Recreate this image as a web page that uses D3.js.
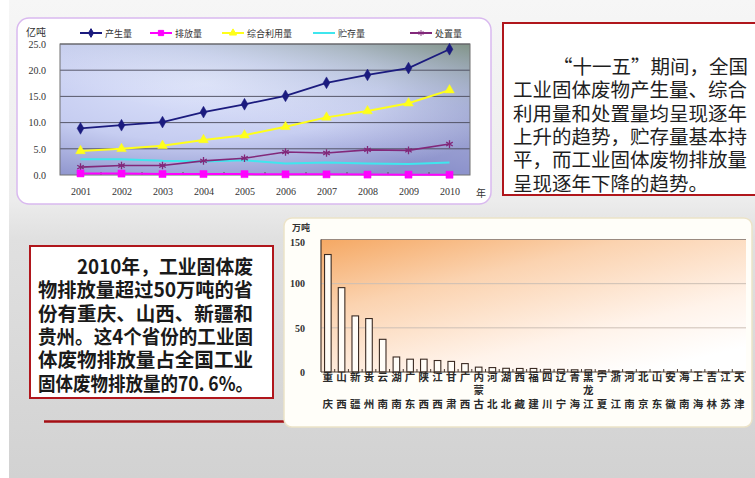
<!DOCTYPE html>
<html><head><meta charset="utf-8">
<script src="https://cdn.jsdelivr.net/npm/d3@7"></script>
<style>html,body{margin:0;padding:0;background:#fff;} svg{display:block;}</style>
</head><body><svg id="c" width="755" height="478"></svg>
<script>
// ---- Data: top line chart (亿吨) ----
const years = ["2001","2002","2003","2004","2005","2006","2007","2008","2009","2010"];
const production  = [8.9, 9.5, 10.1, 12.0, 13.5, 15.1, 17.6, 19.1, 20.4, 24.0];
const discharge   = [0.30, 0.27, 0.19, 0.18, 0.17, 0.13, 0.12, 0.08, 0.07, 0.05];
const utilization = [4.6, 5.0, 5.6, 6.7, 7.6, 9.2, 11.0, 12.2, 13.7, 16.2];
const storage     = [3.0, 3.0, 2.7, 2.6, 2.8, 2.2, 2.4, 2.2, 2.1, 2.4];
const disposal    = [1.5, 1.8, 1.8, 2.7, 3.2, 4.4, 4.2, 4.8, 4.7, 5.9];
const seriesNames = ["产生量","排放量","综合利用量","贮存量","处置量"];
const lineTicks = [0, 5, 10, 15, 20, 25];

// ---- Data: bar chart (万吨) ----
const provinces = ["重庆","山西","新疆","贵州","云南","湖南","广东","陕西","江西","甘肃","广西","内蒙古","河北","湖北","西藏","福建","四川","辽宁","青海","黑龙江","宁夏","浙江","河南","北京","山东","安徽","海南","上海","吉林","江苏","天津"];
const provinceValues = [133, 95.5, 63.5, 60.5, 37, 17, 14.5, 14.5, 13, 12, 9.5, 5.5, 5, 4.2, 4, 4, 3, 3, 2.5, 2.5, 1.5, 1.2, 0.3, 0.2, 0.2, 0.2, 0.1, 0.1, 0.1, 0.05, 0.05];
const barTicks = [0, 50, 100, 150];

// ---- Texts ----
const rightText = ["“十一五”期间，全国","工业固体废物产生量、综合","利用量和处置量均呈现逐年","上升的趋势，贮存量基本持","平，而工业固体废物排放量","呈现逐年下降的趋势。"];
const leftText = ["2010年，工业固体废","物排放量超过50万吨的省","份有重庆、山西、新疆和","贵州。这4个省份的工业固","体废物排放量占全国工业","固体废物排放量的70. 6%。"];

const svg = d3.select("#c");
const defs = svg.append("defs");
const CJK = "'Noto Sans CJK SC', 'Noto Sans', sans-serif";

// background
const bg = defs.append("linearGradient").attr("id","bg").attr("x1",0).attr("y1",0).attr("x2",0).attr("y2",1);
bg.append("stop").attr("offset","0").attr("stop-color","#f6f6f6");
bg.append("stop").attr("offset","0.42").attr("stop-color","#ececec");
bg.append("stop").attr("offset","0.5").attr("stop-color","#e0e0e0");
bg.append("stop").attr("offset","1").attr("stop-color","#d2d2d2");
svg.append("rect").attr("x",0).attr("y",0).attr("width",755).attr("height",478).attr("fill","#ffffff");
svg.append("rect").attr("x",9).attr("y",0).attr("width",746).attr("height",478).attr("fill","url(#bg)");

// ================= TOP LINE CHART =================
svg.append("rect").attr("x",17).attr("y",18).attr("width",474).attr("height",186).attr("rx",12)
  .attr("fill","#ffffff").attr("stroke","#d9b9ef").attr("stroke-width",1.5);

const pl = {l:60, r:470, t:44, b:175};
const x = d3.scalePoint().domain(years).range([pl.l, pl.r]).padding(0.5);
const y = d3.scaleLinear().domain([0,25]).range([pl.b, pl.t]);

const rg = defs.append("radialGradient").attr("id","pbg").attr("cx","0.35").attr("cy","0.3").attr("r","0.8");
rg.append("stop").attr("offset","0").attr("stop-color","#dde3fb");
rg.append("stop").attr("offset","0.55").attr("stop-color","#c6cdf1");
rg.append("stop").attr("offset","1").attr("stop-color","#8d93cc");
const tr = defs.append("linearGradient").attr("id","ptr").attr("x1","1").attr("y1","0").attr("x2","0.55").attr("y2","0.7");
tr.append("stop").attr("offset","0").attr("stop-color","#7e927e").attr("stop-opacity",0.9);
tr.append("stop").attr("offset","0.5").attr("stop-color","#b9c6d4").attr("stop-opacity",0.3);
tr.append("stop").attr("offset","1").attr("stop-color","#ffffff").attr("stop-opacity",0);
svg.append("rect").attr("x",pl.l).attr("y",pl.t).attr("width",pl.r-pl.l).attr("height",pl.b-pl.t).attr("fill","url(#pbg)");
svg.append("rect").attr("x",pl.l).attr("y",pl.t).attr("width",pl.r-pl.l).attr("height",pl.b-pl.t).attr("fill","url(#ptr)");

// grid
svg.append("g").selectAll("line").data(lineTicks.filter(d=>d>0)).join("line")
  .attr("x1",pl.l).attr("x2",pl.r).attr("y1",d=>y(d)).attr("y2",d=>y(d))
  .attr("stroke","#4a4a5a").attr("stroke-width",0.9);
svg.append("rect").attr("x",pl.l).attr("y",pl.t).attr("width",pl.r-pl.l).attr("height",pl.b-pl.t)
  .attr("fill","none").attr("stroke","#707070").attr("stroke-width",1);

// axes
const ya = svg.append("g").attr("transform",`translate(${pl.l},0)`)
  .call(d3.axisLeft(y).tickValues(lineTicks).tickFormat(d3.format(".1f")).tickSize(0).tickPadding(14));
ya.select(".domain").remove();
ya.selectAll("text").attr("font-family","'Liberation Serif', serif").attr("font-size",10).attr("fill","#333");
const xa = svg.append("g").attr("transform",`translate(0,${pl.b})`)
  .call(d3.axisBottom(x).tickSize(0).tickPadding(13));
xa.select(".domain").remove();
xa.selectAll("text").attr("font-family","'Liberation Serif', serif").attr("font-size",10).attr("fill","#333");
svg.append("g").selectAll("line").data(years.slice(1)).join("line")
  .attr("x1",d=>x(d)-x.step()/2).attr("x2",d=>x(d)-x.step()/2).attr("y1",pl.b-3).attr("y2",pl.b)
  .attr("stroke","#555");
svg.append("text").attr("x",476).attr("y",197).text("年").attr("font-family",CJK).attr("font-size",10).attr("fill","#333");
svg.append("text").attr("x",26).attr("y",36).text("亿吨").attr("font-family",CJK).attr("font-size",10).attr("fill","#333");

const series = [
  {name:seriesNames[0], values:production,  color:"#1b1b7e", w:1.8, sym:d3.symbolDiamond, size:40, fill:true},
  {name:seriesNames[1], values:discharge,   color:"#ff00ff", w:2,   sym:d3.symbolSquare, size:50, fill:true},
  {name:seriesNames[2], values:utilization, color:"#ffff1a", w:2,   sym:d3.symbolTriangle, size:40, fill:true},
  {name:seriesNames[3], values:storage,     color:"#3fe6ee", w:2,   sym:null},
  {name:seriesNames[4], values:disposal,    color:"#82287a", w:1.6, sym:d3.symbolAsterisk, size:40, fill:false}
];
const line = d3.line().x((d,i)=>x(years[i])).y(d=>y(d));
const drawOrder = [3,4,2,0,1];
drawOrder.forEach(k=>{
  const s = series[k];
  svg.append("path").datum(s.values).attr("d",line).attr("fill","none")
    .attr("stroke",s.color).attr("stroke-width",s.w);
  if (s.sym) {
    svg.append("g").selectAll("path").data(s.values).join("path")
      .attr("transform",(d,i)=>`translate(${x(years[i])},${y(d)})`)
      .attr("d",d3.symbol().type(s.sym).size(s.size))
      .attr("fill",s.fill?s.color:"none").attr("stroke",s.color).attr("stroke-width",s.fill?0.5:1.3);
  }
});

// legend
const legX = [80, 150, 222, 313, 410];
series.forEach((s,i)=>{
  const g = svg.append("g").attr("transform",`translate(${legX[i]},33)`);
  g.append("line").attr("x1",0).attr("x2",22).attr("stroke",s.color).attr("stroke-width",2);
  if (s.sym) g.append("path").attr("transform","translate(11,0)")
    .attr("d",d3.symbol().type(s.sym).size(s.size*0.55))
    .attr("fill",s.fill?s.color:"none").attr("stroke",s.color).attr("stroke-width",1);
  g.append("text").attr("x",25).attr("y",3.5).text(s.name).attr("font-family",CJK)
    .attr("font-size",9).attr("fill","#333");
});

// ================= RIGHT TOP TEXT BOX =================
svg.append("rect").attr("x",503).attr("y",23).attr("width",262).attr("height",172)
  .attr("fill","#ffffff").attr("stroke","#b0161c").attr("stroke-width",2);
const rt = svg.append("text").attr("font-family",CJK).attr("font-size",19.5).attr("fill","#1e1e1e");
rightText.forEach((t,i)=>{
  rt.append("tspan").attr("x",i===0?553:513).attr("y",74+i*23.3).text(t);
});

// ================= LEFT TEXT BOX =================
svg.append("rect").attr("x",30).attr("y",246).attr("width",243).attr("height",152)
  .attr("fill","#ffffff").attr("stroke","#b0161c").attr("stroke-width",2);
const lt = svg.append("text").attr("font-family",CJK).attr("font-weight","bold").attr("font-size",19.5).attr("fill","#1a1a1a");
leftText.forEach((t,i)=>{
  lt.append("tspan").attr("x",i===0?77:38).attr("y",274+i*23.3).text(t)
    .attr("textLength", i===0?176:215).attr("lengthAdjust","spacingAndGlyphs");
});
svg.append("line").attr("x1",44).attr("x2",290).attr("y1",421.5).attr("y2",421.5)
  .attr("stroke","#a50f14").attr("stroke-width",2.5);

// ================= BAR CHART =================
svg.append("rect").attr("x",284).attr("y",218).attr("width",468).attr("height",209).attr("rx",8)
  .attr("fill","#fffef9").attr("stroke","#ece3c8").attr("stroke-width",1.5);
const bp = {l:321, r:746, t:239.5, b:372};
const xb = d3.scalePoint().domain(provinces).range([bp.l,bp.r]).padding(0.5);
const yb = d3.scaleLinear().domain([0,150]).range([bp.b,bp.t]);
const og = defs.append("linearGradient").attr("id","obg").attr("x1","0").attr("y1","0").attr("x2","0.75").attr("y2","1");
og.append("stop").attr("offset","0").attr("stop-color","#f5a863");
og.append("stop").attr("offset","0.35").attr("stop-color","#fbd3b0");
og.append("stop").attr("offset","0.75").attr("stop-color","#fff3ea");
og.append("stop").attr("offset","1").attr("stop-color","#ffffff");
svg.append("rect").attr("x",bp.l).attr("y",bp.t).attr("width",bp.r-bp.l).attr("height",bp.b-bp.t).attr("fill","url(#obg)");
svg.append("g").selectAll("line").data(barTicks.filter(d=>d>0)).join("line")
  .attr("x1",bp.l).attr("x2",bp.r).attr("y1",d=>yb(d)).attr("y2",d=>yb(d))
  .attr("stroke",d=>d===150?"#9a8a80":"#cdbfb5").attr("stroke-width",1);
const bw = xb.step()*0.48;
svg.append("g").selectAll("rect").data(provinceValues).join("rect")
  .attr("x",(d,i)=>xb(provinces[i])-bw/2).attr("y",d=>yb(d))
  .attr("width",bw).attr("height",d=>bp.b-yb(d))
  .attr("fill","#fffdf8").attr("stroke","#3a2a22").attr("stroke-width",1.1);
svg.append("line").attr("x1",bp.l).attr("x2",bp.l).attr("y1",bp.t).attr("y2",bp.b).attr("stroke","#4a3a30").attr("stroke-width",1.2);
svg.append("line").attr("x1",bp.l).attr("x2",bp.r).attr("y1",bp.b).attr("y2",bp.b).attr("stroke","#4a3a30").attr("stroke-width",1.2);
svg.append("g").selectAll("line").data(provinces.slice(1)).join("line")
  .attr("x1",d=>xb(d)-xb.step()/2).attr("x2",d=>xb(d)-xb.step()/2).attr("y1",bp.b-3).attr("y2",bp.b)
  .attr("stroke","#4a3a30");
const yba = svg.append("g").attr("transform",`translate(${bp.l},0)`)
  .call(d3.axisLeft(yb).tickValues(barTicks).tickSize(0).tickPadding(16));
yba.select(".domain").remove();
yba.selectAll("text").attr("font-family","'Liberation Serif', serif").attr("font-weight","bold").attr("font-size",10).attr("fill","#333")
  .attr("dy", d=>d===150?"0.55em":"0.32em");
svg.append("text").attr("x",292).attr("y",231).text("万吨").attr("font-family",CJK).attr("font-weight","bold").attr("font-size",9).attr("fill","#333");
// category labels (vertical characters, one text per province)
const rowsY = [380.5, 393.5, 408];
provinces.forEach(p=>{
  const chars = Array.from(p);
  const rows = chars.length === 3 ? [0,1,2] : [0,2];
  const t = svg.append("text").attr("text-anchor","middle")
    .attr("font-family",CJK).attr("font-weight","bold").attr("font-size",10.5).attr("fill","#2a2a2a");
  chars.forEach((c,j)=>{
    t.append("tspan").attr("x",xb(p)).attr("y",rowsY[rows[j]]).text(c);
  });
});
</script></body></html>
